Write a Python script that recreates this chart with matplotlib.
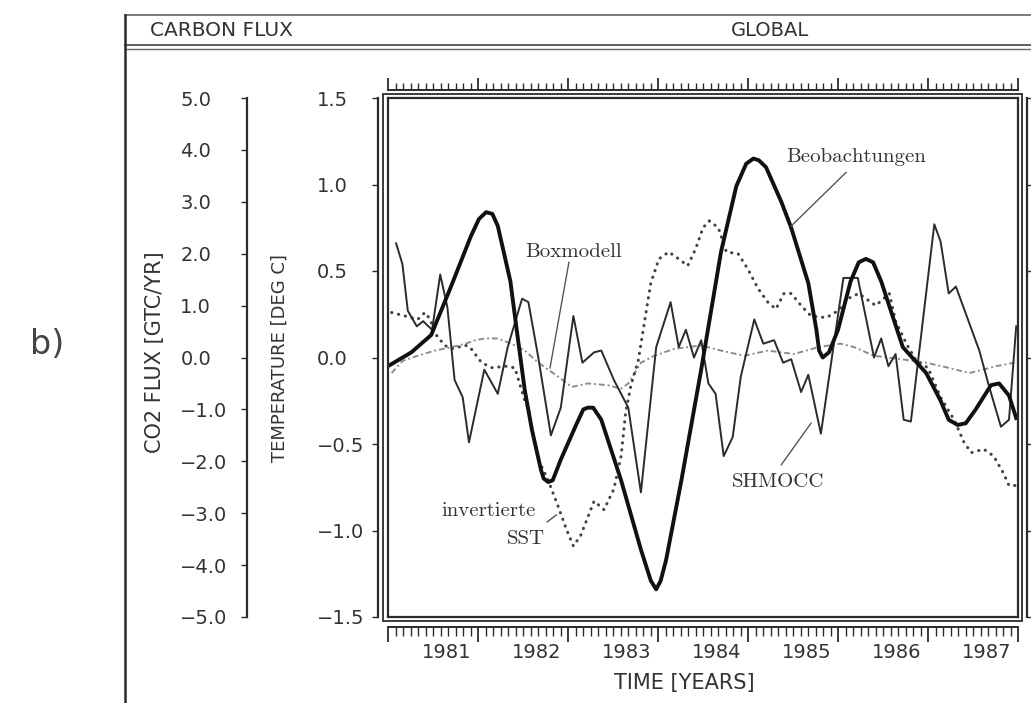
import matplotlib
matplotlib.use("Agg")
import matplotlib.pyplot as plt
from matplotlib.lines import Line2D
from matplotlib.patches import Rectangle
from matplotlib.transforms import blended_transform_factory, ScaledTranslation

W, H, DPI = 1031, 703, 100

# --- values (time in decimal years, temperature in deg C) ---
obs_t = [1980.00, 1980.26, 1980.48, 1980.70, 1980.92, 1981.01, 1981.09, 1981.16, 1981.22,
         1981.36, 1981.43, 1981.52, 1981.60, 1981.70, 1981.73, 1981.78, 1981.83, 1981.92,
         1982.09, 1982.17, 1982.22, 1982.28, 1982.37, 1982.59, 1982.81, 1982.92, 1982.98,
         1983.03, 1983.09, 1983.26, 1983.48, 1983.70, 1983.87, 1983.98, 1984.06, 1984.12,
         1984.20, 1984.37, 1984.48, 1984.67, 1984.76, 1984.79, 1984.83, 1984.90, 1985.00,
         1985.14, 1985.23, 1985.31, 1985.39, 1985.48, 1985.72, 1985.98, 1986.14, 1986.23,
         1986.33, 1986.42, 1986.53, 1986.70, 1986.79, 1986.90, 1986.98]
obs_v = [-0.05, 0.03, 0.13, 0.41, 0.70, 0.80, 0.84, 0.83, 0.76,
         0.44, 0.16, -0.19, -0.42, -0.65, -0.70, -0.72, -0.71, -0.59,
         -0.39, -0.30, -0.29, -0.29, -0.36, -0.71, -1.11, -1.29, -1.34,
         -1.29, -1.17, -0.71, -0.07, 0.61, 0.99, 1.12, 1.15, 1.14,
         1.10, 0.90, 0.75, 0.43, 0.16, 0.04, 0.00, 0.03, 0.16,
         0.44, 0.55, 0.57, 0.55, 0.44, 0.06, -0.09, -0.25, -0.36,
         -0.39, -0.38, -0.30, -0.16, -0.15, -0.22, -0.35]

shm_t = [1980.09, 1980.16, 1980.22, 1980.32, 1980.39, 1980.49, 1980.58, 1980.66, 1980.74,
         1980.83, 1980.90, 1981.07, 1981.22, 1981.33, 1981.49, 1981.56, 1981.67, 1981.81,
         1981.92, 1982.06, 1982.16, 1982.29, 1982.37, 1982.51, 1982.67, 1982.81, 1982.98,
         1983.14, 1983.23, 1983.31, 1983.40, 1983.48, 1983.56, 1983.64, 1983.73, 1983.83,
         1983.92, 1984.07, 1984.17, 1984.29, 1984.39, 1984.48, 1984.59, 1984.67, 1984.81,
         1985.06, 1985.22, 1985.40, 1985.48, 1985.56, 1985.64, 1985.73, 1985.81, 1986.07,
         1986.14, 1986.23, 1986.31, 1986.57, 1986.68, 1986.81, 1986.90, 1986.98]
shm_v = [0.66, 0.54, 0.27, 0.18, 0.21, 0.16, 0.48, 0.29, -0.13,
         -0.23, -0.49, -0.07, -0.21, 0.06, 0.34, 0.32, 0.00, -0.45,
         -0.29, 0.24, -0.03, 0.03, 0.04, -0.13, -0.29, -0.78, 0.06,
         0.32, 0.06, 0.16, 0.00, 0.10, -0.15, -0.21, -0.57, -0.46,
         -0.11, 0.22, 0.08, 0.10, -0.03, -0.01, -0.20, -0.10, -0.44,
         0.46, 0.46, 0.00, 0.11, -0.05, 0.02, -0.36, -0.37, 0.77,
         0.67, 0.37, 0.41, 0.04, -0.17, -0.40, -0.36, 0.18]

sst_t = [1980.04, 1980.19, 1980.33, 1980.41, 1980.47, 1980.52, 1980.63, 1980.71, 1980.86,
         1980.91, 1981.04, 1981.16, 1981.30, 1981.41, 1981.52, 1981.56, 1981.67, 1981.78,
         1981.89, 1981.98, 1982.06, 1982.14, 1982.29, 1982.40, 1982.51, 1982.59, 1982.64,
         1982.70, 1982.78, 1982.87, 1982.92, 1983.01, 1983.12, 1983.23, 1983.33, 1983.42,
         1983.50, 1983.57, 1983.67, 1983.76, 1983.89, 1984.00, 1984.11, 1984.22, 1984.31,
         1984.40, 1984.48, 1984.59, 1984.70, 1984.87, 1985.00, 1985.11, 1985.23, 1985.42,
         1985.57, 1985.64, 1985.76, 1985.87, 1986.00, 1986.14, 1986.29, 1986.40, 1986.48,
         1986.62, 1986.73, 1986.84, 1986.90, 1986.98]
sst_v = [0.26, 0.24, 0.22, 0.26, 0.22, 0.14, 0.07, 0.05, 0.07,
         0.06, -0.03, -0.06, -0.05, -0.06, -0.25, -0.30, -0.59, -0.71,
         -0.86, -0.99, -1.09, -1.03, -0.83, -0.88, -0.76, -0.57, -0.32,
         -0.16, -0.02, 0.27, 0.43, 0.57, 0.61, 0.57, 0.53, 0.63,
         0.75, 0.79, 0.75, 0.61, 0.60, 0.51, 0.40, 0.32, 0.28,
         0.37, 0.37, 0.30, 0.24, 0.23, 0.27, 0.34, 0.37, 0.30,
         0.37, 0.21, 0.08, -0.02, -0.06, -0.23, -0.36, -0.49, -0.55,
         -0.53, -0.57, -0.67, -0.74, -0.74]

box_t = [1980.04, 1980.16, 1980.33, 1980.52, 1980.71, 1980.86, 1980.97, 1981.08, 1981.22,
         1981.37, 1981.52, 1981.67, 1981.89, 1982.04, 1982.22, 1982.44, 1982.59, 1982.67,
         1982.81, 1982.96, 1983.18, 1983.48, 1983.70, 1983.96, 1984.22, 1984.51, 1984.78,
         1985.03, 1985.18, 1985.40, 1985.70, 1985.98, 1986.23, 1986.46, 1986.61, 1986.76,
         1986.96]
box_v = [-0.09, -0.02, 0.01, 0.04, 0.06, 0.08, 0.10, 0.11, 0.11,
         0.08, 0.04, -0.03, -0.11, -0.17, -0.15, -0.16, -0.18, -0.15,
         -0.03, 0.01, 0.05, 0.07, 0.04, 0.01, 0.04, 0.02, 0.06,
         0.08, 0.06, 0.01, -0.01, -0.03, -0.06, -0.09, -0.07, -0.05,
         -0.03]

temp_ticks = [-1.5, -1.0, -0.5, 0.0, 0.5, 1.0, 1.5]
flux_ticks = [-5.0, -4.0, -3.0, -2.0, -1.0, 0.0, 1.0, 2.0, 3.0, 4.0, 5.0]
year_ticks = [1980, 1981, 1982, 1983, 1984, 1985, 1986, 1987]
year_labels = ['1981', '1982', '1983', '1984', '1985', '1986', '1987']

INK = '#2b2b2b'
TXT = '#333333'


def rect(x0, y0, x1, y1):
    # pixel box (top-left origin) -> figure fraction [l, b, w, h]
    return [x0 / W, 1 - y1 / H, (x1 - x0) / W, (y1 - y0) / H]


def fig_line(xs, ys, **kw):
    fig.add_artist(Line2D([x / W for x in xs], [1 - y / H for y in ys],
                          transform=fig.transFigure, **kw))


def bare(a):
    for s in a.spines.values():
        s.set_visible(False)
    a.patch.set_visible(False)
    a.set_xticks([])
    a.set_yticks([])


fig = plt.figure(figsize=(W / DPI, H / DPI), dpi=DPI)
fig.patch.set_facecolor('white')

# frame and header
fig_line([125, 1031], [15, 15], color='#666666', lw=1.2)
fig_line([125, 1031], [45, 45], color='#555555', lw=1.3)
fig_line([125, 1031], [49, 49], color='#666666', lw=1.0)
fig_line([125, 125], [15, 703], color=INK, lw=1.8)
fig.text(150 / W, 1 - 31 / H, 'CARBON FLUX', fontsize=14.5, color=TXT, ha='left', va='center')
fig.text(770 / W, 1 - 31 / H, 'GLOBAL', fontsize=14, color=TXT, ha='center', va='center')
fig.text(30 / W, 1 - 345 / H, 'b)', fontsize=24, color='#444444', ha='left', va='center')

# main data panel
ax = fig.add_axes(rect(388, 98, 1018, 617))
ax.set_xlim(1980, 1987)
ax.set_ylim(-1.5, 1.5)
ax.set_xticks([])
ax.set_yticks([])
for s in ax.spines.values():
    s.set_linewidth(1.6)
    s.set_color(INK)
fig.add_artist(Rectangle((383 / W, 1 - 621 / H), (1022 - 383) / W, (621 - 94) / H,
                         transform=fig.transFigure, fill=False, lw=1.3, ec=INK))

ax.plot(box_t, box_v, color='#8c8c8c', lw=1.4, ls=(0, (3, 1.5, 1, 1.5)))
ax.plot(sst_t, sst_v, color='#444444', lw=2.2, ls=(0, (0.1, 2.2)), dash_capstyle='round')
ax.plot(shm_t, shm_v, color=INK, lw=1.4)
ax.plot(obs_t, obs_v, color='#111111', lw=2.8, solid_joinstyle='round')

serif = dict(family='cmr10', fontsize=15, color=TXT)
lead = dict(color='#555555', lw=1.0)
ax.text(1985.20, 1.16, 'Beobachtungen', ha='center', va='center', **serif)
ax.plot([1985.09, 1984.48], [1.07, 0.76], **lead)
ax.text(1982.06, 0.61, 'Boxmodell', ha='center', va='center', **serif)
ax.plot([1982.01, 1981.80], [0.55, -0.06], **lead)
ax.text(1981.12, -0.89, 'invertierte', ha='center', va='center', **serif)
ax.text(1981.53, -1.05, 'SST', ha='center', va='center', **serif)
ax.plot([1981.77, 1981.87], [-0.95, -0.91], **lead)
ax.text(1984.34, -0.72, 'SHMOCC', ha='center', va='center', **serif)
ax.plot([1984.37, 1984.70], [-0.62, -0.38], **lead)

# temperature axis
tax = fig.add_axes(rect(378, 98, 379, 617))
bare(tax)
tax.spines['left'].set_visible(True)
tax.spines['left'].set_linewidth(1.6)
tax.spines['left'].set_color(INK)
tax.set_ylim(-1.5, 1.5)
tax.set_yticks(temp_ticks)
tax.set_yticklabels([f'{v:.1f}'.replace('-', '\u2212') for v in temp_ticks])
tax.tick_params(axis='y', length=4, width=1, color=INK, labelsize=14,
                labelcolor=TXT, pad=40)
for lab in tax.get_yticklabels():
    lab.set_horizontalalignment('left')
fig.text(280 / W, 1 - 358 / H, 'TEMPERATURE [DEG C]', rotation=90, fontsize=13,
         color=TXT, ha='center', va='center')

# CO2 flux axis
cax = fig.add_axes(rect(247, 98, 248, 617))
bare(cax)
cax.spines['left'].set_visible(True)
cax.spines['left'].set_linewidth(1.6)
cax.spines['left'].set_color(INK)
cax.set_ylim(-5, 5)
cax.set_yticks(flux_ticks)
cax.set_yticklabels([f'{v:.1f}'.replace('-', '\u2212') for v in flux_ticks])
cax.tick_params(axis='y', length=4, width=1, color=INK, labelsize=14,
                labelcolor=TXT, pad=44)
for lab in cax.get_yticklabels():
    lab.set_horizontalalignment('left')
fig.text(155 / W, 1 - 352 / H, 'CO2 FLUX [GTC/YR]', rotation=90, fontsize=15,
         color=TXT, ha='center', va='center')

# right axis of the neighbouring panel
rax = fig.add_axes(rect(1027, 98, 1028, 617))
bare(rax)
rax.spines['left'].set_visible(True)
rax.spines['left'].set_linewidth(1.6)
rax.spines['left'].set_color(INK)
rax.set_ylim(-1.5, 1.5)
rax.set_yticks(temp_ticks)
rax.tick_params(axis='y', direction='in', length=3, width=1, color=INK, labelleft=False)

minor_months = [1980 + m / 12 for m in range(7 * 12 + 1)]

# top tick strip
sax = fig.add_axes(rect(388, 76, 1018, 90))
bare(sax)
sax.spines['bottom'].set_visible(True)
sax.spines['bottom'].set_linewidth(1.4)
sax.spines['bottom'].set_color(INK)
sax.set_xlim(1980, 1987)
sax.set_xticks(year_ticks)
sax.set_xticks(minor_months, minor=True)
sax.tick_params(axis='x', which='major', direction='in', length=9, width=1.3, color=INK, labelbottom=False)
sax.tick_params(axis='x', which='minor', direction='in', length=5, width=1.0, color=INK)

# bottom tick strip with year labels
bax = fig.add_axes(rect(388, 627, 1018, 645))
bare(bax)
bax.spines['top'].set_visible(True)
bax.spines['top'].set_linewidth(1.4)
bax.spines['top'].set_color(INK)
bax.set_xlim(1980, 1987)
bax.xaxis.set_ticks_position('top')
bax.set_xticks(year_ticks)
bax.set_xticks(minor_months, minor=True)
bax.tick_params(axis='x', which='major', direction='in', length=11, width=1.3, color=INK, labeltop=False)
bax.tick_params(axis='x', which='minor', direction='in', length=6.5, width=1.0, color=INK)

yr_tr = blended_transform_factory(bax.transData, fig.transFigure) + \
    ScaledTranslation(-7 / DPI, 0, fig.dpi_scale_trans)
for yr, lab in zip(year_ticks[1:], year_labels):
    bax.text(yr, 1 - 652 / H, lab, transform=yr_tr, fontsize=14, color=TXT,
             ha='right', va='center')
fig.text(684 / W, 1 - 683 / H, 'TIME [YEARS]', fontsize=15, color=TXT, ha='center', va='center')

fig.savefig('out.png', dpi=DPI)
